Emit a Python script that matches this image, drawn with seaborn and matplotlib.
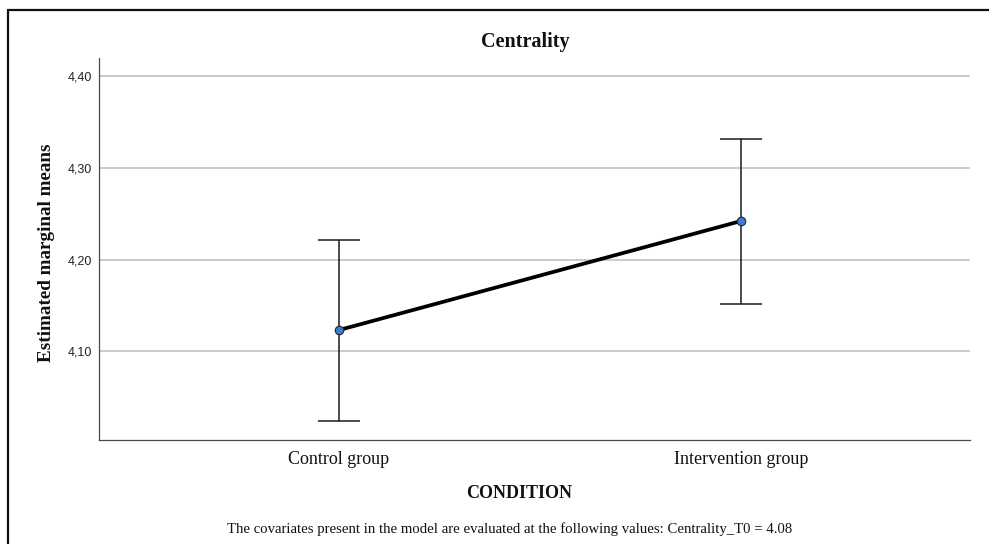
import matplotlib
matplotlib.use("Agg")
import matplotlib.pyplot as plt
from matplotlib.lines import Line2D
from matplotlib.ticker import FixedLocator, FuncFormatter
import seaborn as sns
import pandas as pd

# Estimated marginal means with 95% CI per condition
conditions = ["Control group", "Intervention group"]
means = [4.123, 4.242]
ci_lower = [4.024, 4.151]
ci_upper = [4.221, 4.332]
y_ticks = [4.10, 4.20, 4.30, 4.40]

title = "Centrality"
x_title = "CONDITION"
y_title = "Estimated marginal means"
footnote = ("The covariates present in the model are evaluated at the following "
            "values: Centrality_T0 = 4.08")

sns.set_theme(style="white")
serif = ["Liberation Serif", "DejaVu Serif"]
sans = ["Liberation Sans", "DejaVu Sans"]

df = pd.DataFrame({"condition": conditions, "mean": means,
                   "lo": ci_lower, "hi": ci_upper})

fig = plt.figure(figsize=(9.89, 5.44), dpi=100)
ax = fig.add_axes([99 / 989, 1 - 440 / 544, 871 / 989, 382 / 544])

# Error bars first so the line and markers sit on top
pos = list(range(len(conditions)))
yerr = [[m - l for m, l in zip(df["mean"], df["lo"])],
        [h - m for m, h in zip(df["mean"], df["hi"])]]
ax.errorbar(pos, df["mean"], yerr=yerr, fmt="none", ecolor="#1a1a1a",
            elinewidth=1.1, capsize=15, capthick=1.1, zorder=3)

sns.pointplot(data=df, x="condition", y="mean", errorbar=None,
              color="black", linewidth=2.7, markers="o", markersize=0,
              ax=ax, zorder=4)
sns.scatterplot(data=df, x="condition", y="mean", s=38, color="#3b7dcc",
                edgecolor="#1c2a3a", linewidth=0.8, ax=ax, zorder=5,
                legend=False)

ax.set_xlim(-0.597, 1.57)
ax.set_ylim(4.003, 4.42)
ax.yaxis.set_major_locator(FixedLocator(y_ticks))
ax.yaxis.set_major_formatter(FuncFormatter(lambda v, p: f"{v:.2f}".replace(".", ",")))
ax.grid(axis="y", color="#bdbdbd", linewidth=1.1)
ax.grid(axis="x", visible=False)
ax.set_axisbelow(True)

for side in ("top", "right"):
    ax.spines[side].set_visible(False)
for side in ("left", "bottom"):
    ax.spines[side].set_color("#4a4a4a")
    ax.spines[side].set_linewidth(0.9)

ax.tick_params(axis="both", length=0)
for lbl in ax.get_yticklabels():
    lbl.set_fontfamily(sans)
    lbl.set_fontsize(9)
    lbl.set_color("#222222")
for lbl in ax.get_xticklabels():
    lbl.set_fontfamily(serif)
    lbl.set_fontsize(13)
    lbl.set_color("#111111")
ax.tick_params(axis="x", pad=8)
ax.tick_params(axis="y", pad=5)

ax.set_xlabel("")
ax.set_ylabel("")

fig.text(525 / 989, 1 - 42 / 544, title, family=serif, fontsize=14.5,
         fontweight="bold", ha="center", va="center", color="#111111")
fig.text(47 / 989, 1 - 253 / 544, y_title, family=serif, fontsize=13.8,
         fontweight="bold", rotation=90, ha="center", va="center",
         color="#111111")
fig.text(519 / 989, 1 - 493 / 544, x_title, family=serif, fontsize=13,
         fontweight="bold", ha="center", va="center", color="#111111")
fig.text(510 / 989, 1 - 529 / 544, footnote, family=serif, fontsize=10.6,
         ha="center", va="center", color="#111111")

# Outer frame lines along the top and left edges
fig.add_artist(Line2D([8 / 989, 1.0], [1 - 10 / 544, 1 - 10 / 544],
                      transform=fig.transFigure, color="#111111", linewidth=1.6))
fig.add_artist(Line2D([8 / 989, 8 / 989], [0.0, 1 - 10 / 544],
                      transform=fig.transFigure, color="#111111", linewidth=1.6))

fig.savefig("out.png", dpi=100, facecolor="white")
